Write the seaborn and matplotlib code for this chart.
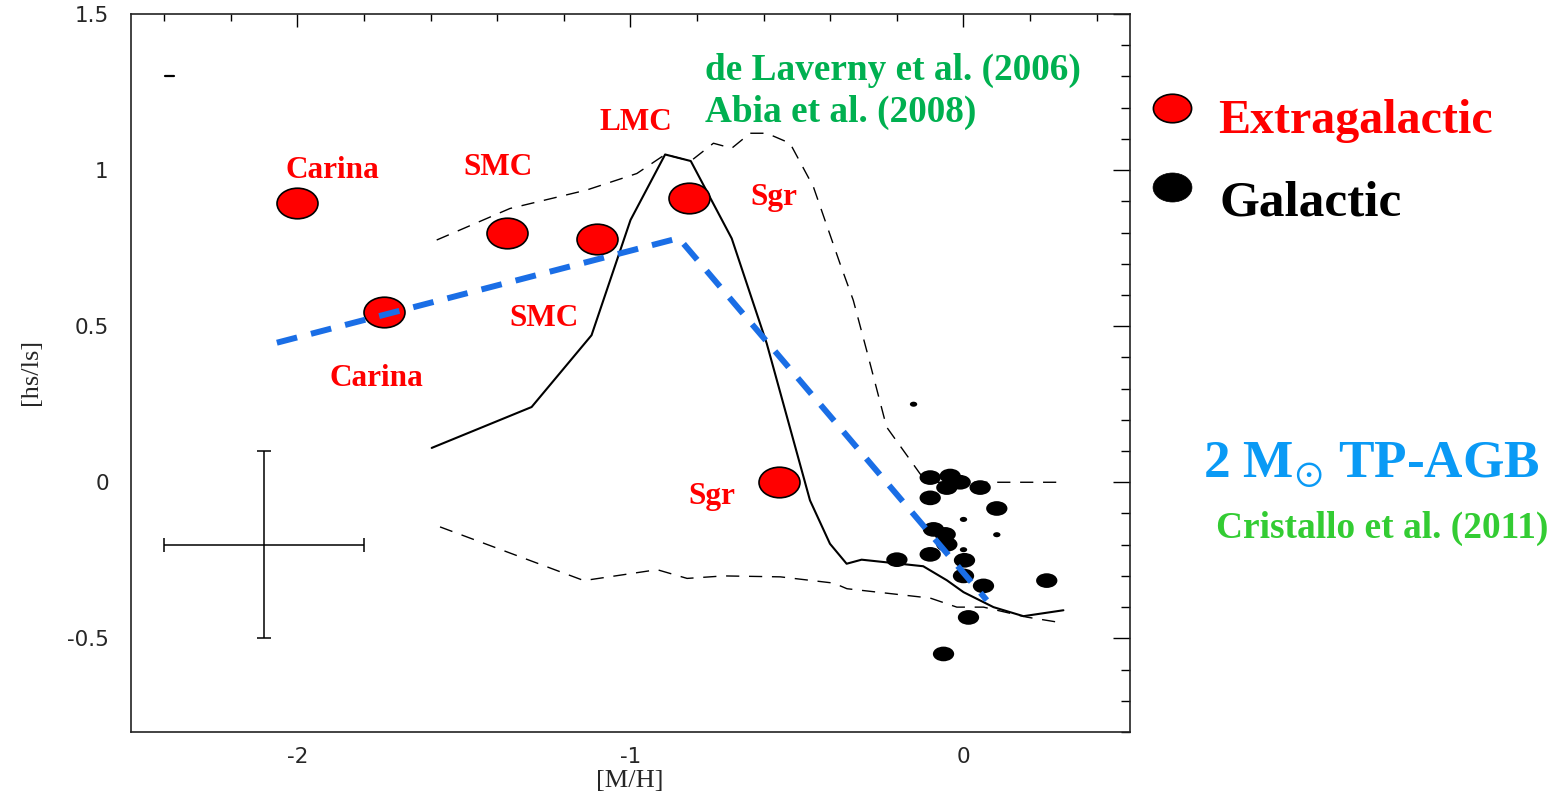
import numpy as np
import pandas as pd
import matplotlib
matplotlib.use("Agg")
import matplotlib.pyplot as plt
import seaborn as sns
from matplotlib.path import Path
from matplotlib.markers import MarkerStyle
from matplotlib.transforms import Affine2D
from matplotlib.lines import Line2D
from matplotlib.ticker import MultipleLocator, FuncFormatter

# ---------------- data ----------------
extra_mh = [-2.00, -1.74, -1.37, -1.10, -0.825, -0.555]
extra_hsls = [0.895, 0.545, 0.80, 0.78, 0.91, 0.00]

gal_mh = [-0.15, -0.10, -0.04, -0.01, -0.05, 0.05, -0.10, 0.10, 0.00, 0.10,
          -0.09, -0.055, -0.05, 0.00, -0.10, -0.20, 0.003, 0.00, 0.06, 0.25,
          0.015, -0.06]
gal_hsls = [0.25, 0.015, 0.02, 0.00, -0.017, -0.017, -0.05, -0.084, -0.119, -0.168,
            -0.151, -0.167, -0.199, -0.216, -0.231, -0.248, -0.25, -0.30, -0.332, -0.315,
            -0.433, -0.55]
gal_kind = ["weak", "strong", "strong", "strong", "strong", "strong", "strong", "strong",
            "weak", "weak", "strong", "strong", "strong", "weak", "strong", "strong",
            "strong", "strong", "strong", "strong", "strong", "strong"]

model_mh = [-1.597, -1.297, -1.117, -1.00, -0.896, -0.819, -0.696, -0.591, -0.461,
            -0.401, -0.351, -0.306, -0.121, -0.05, 0.00, 0.09, 0.18, 0.30]
model_hsls = [0.110, 0.241, 0.471, 0.840, 1.050, 1.029, 0.781, 0.445, -0.058,
              -0.197, -0.261, -0.248, -0.269, -0.314, -0.352, -0.40, -0.429, -0.41]

upper_mh = [-1.582, -1.362, -1.132, -0.981, -0.896, -0.819, -0.751, -0.696, -0.641,
            -0.591, -0.521, -0.451, -0.371, -0.331, -0.291, -0.231, -0.131, -0.11, 0.30]
upper_hsls = [0.776, 0.877, 0.936, 0.989, 1.050, 1.029, 1.086, 1.070, 1.118,
              1.118, 1.086, 0.947, 0.701, 0.583, 0.423, 0.177, 0.028, 0.0, 0.0]

lower_mh = [-1.572, -1.14, -0.92, -0.83, -0.72, -0.55, -0.39, -0.35, -0.10, -0.02,
            0.06, 0.19, 0.30]
lower_hsls = [-0.143, -0.315, -0.28, -0.308, -0.30, -0.303, -0.323, -0.341, -0.371,
              -0.40, -0.40, -0.432, -0.451]

fit_mh = [-2.062, -0.855, 0.07]
fit_hsls = [0.447, 0.782, -0.378]

err_mh, err_hsls = -2.10, -0.20
err_dmh, err_dhsls = 0.30, 0.30

stray_mh = [-2.398, -2.371]
stray_hsls = [1.30, 1.30]

site_names = ["Carina", "SMC", "LMC", "Sgr", "SMC", "Carina", "Sgr"]
site_mh = [-1.895, -1.398, -0.985, -0.571, -1.26, -1.763, -0.755]
site_hsls = [0.974, 0.984, 1.128, 0.888, 0.50, 0.308, -0.07]

x_ticks_major = 1.0
x_ticks_minor = 0.2
y_ticks_major = 0.5
y_ticks_minor = 0.1

# ---------------- style ----------------
sns.set_style("white")
plt.rcParams["font.family"] = ["DejaVu Sans"]
plt.rcParams["mathtext.fontset"] = "stix"

W, H = 1560, 793
fig = plt.figure(figsize=(W / 100, H / 100), dpi=100)
fig.patch.set_facecolor("white")
ax = fig.add_axes([131 / W, 61 / H, 999 / W, 718 / H])
ax.set_facecolor("white")

def ellipse_marker(aspect):
    p = Path.unit_circle().transformed(Affine2D().scale(aspect, 1.0))
    return MarkerStyle(p)

red_m = ellipse_marker(1.34)
blk_m = ellipse_marker(1.45)

# model curves
sns.lineplot(x=model_mh, y=model_hsls, sort=False, estimator=None, color="black",
             lw=1.5, ax=ax, zorder=2)
l_up = sns.lineplot(x=upper_mh, y=upper_hsls, sort=False, estimator=None, color="black",
                    lw=1.0, ax=ax, zorder=2).lines[-1]
l_up.set_linestyle((0, (9.5, 7)))
l_lo = sns.lineplot(x=lower_mh, y=lower_hsls, sort=False, estimator=None, color="black",
                    lw=1.0, ax=ax, zorder=2).lines[-1]
l_lo.set_linestyle((0, (9.5, 7)))

# galactic stars
gal = pd.DataFrame({"mh": gal_mh, "hsls": gal_hsls, "kind": gal_kind})
sns.scatterplot(data=gal, x="mh", y="hsls", size="kind",
                sizes={"strong": 235, "weak": 28}, color="black", marker=blk_m,
                linewidth=0, legend=False, ax=ax, zorder=3)

# extragalactic stars
ext = pd.DataFrame({"mh": extra_mh, "hsls": extra_hsls})
sns.scatterplot(data=ext, x="mh", y="hsls", s=870, color="#ff0000", marker=red_m,
                edgecolor="black", linewidth=1.2, legend=False, ax=ax, zorder=4)

# fit (blue dashed)
l_fit = sns.lineplot(x=fit_mh, y=fit_hsls, sort=False, estimator=None, color="#1a6ee6",
                     lw=4.3, ax=ax, zorder=5).lines[-1]
l_fit.set_linestyle((0, (3.5, 2.4)))

# error bar
ax.errorbar(err_mh, err_hsls, xerr=err_dmh, yerr=err_dhsls, color="black", lw=1.1,
            capsize=5, capthick=1.1, fmt="none", zorder=3)
ax.plot(stray_mh, stray_hsls, color="black", lw=1.6, zorder=3)

# site labels
for name, xm, ym in zip(site_names, site_mh, site_hsls):
    ax.text(xm, ym, name, color="#ff0000", fontsize=22.5, fontweight="bold",
            family="Liberation Serif", ha="center", va="baseline", zorder=6)

ax.text(-0.776, 1.288, "de Laverny et al. (2006)", color="#00b050", fontsize=26.8,
        fontweight="bold", family="Liberation Serif", ha="left", va="baseline")
ax.text(-0.776, 1.154, "Abia et al. (2008)", color="#00b050", fontsize=26.8,
        fontweight="bold", family="Liberation Serif", ha="left", va="baseline")

# axes
ax.set_xlim(-2.5, 0.5)
ax.set_ylim(-0.8, 1.5)
ax.xaxis.set_major_locator(MultipleLocator(x_ticks_major))
ax.xaxis.set_minor_locator(MultipleLocator(x_ticks_minor))
ax.yaxis.set_major_locator(MultipleLocator(y_ticks_major))
ax.yaxis.set_minor_locator(MultipleLocator(y_ticks_minor))

def fmt(v, p):
    v = round(v, 6)
    if abs(v) < 1e-9:
        return "0"
    return "%g" % v

ax.xaxis.set_major_formatter(FuncFormatter(fmt))
ax.yaxis.set_major_formatter(FuncFormatter(fmt))
ax.tick_params(which="both", direction="in", top=True, right=True, color="black", width=1.0)
ax.tick_params(axis="x", which="major", length=9.5, pad=11, labelsize=15.5)
ax.tick_params(axis="x", which="minor", length=5)
ax.tick_params(axis="y", which="major", length=12, pad=16, labelsize=15.5)
ax.tick_params(axis="y", which="minor", length=6.5)
for sp in ax.spines.values():
    sp.set_visible(True)
    sp.set_color("#222222")
    sp.set_linewidth(1.2)

ax.set_xlabel("[M/H]", family="Liberation Serif", fontsize=19)
ax.set_ylabel("[hs/ls]", family="Liberation Serif", fontsize=19)
ax.xaxis.set_label_coords(0.4995, -0.053)
ax.yaxis.set_label_coords(-0.089, 0.501)

# legend-like annotations on the right
def fx(px):
    return px / W

def fy(py):
    return 1 - py / H

fig.add_artist(Line2D([fx(1172)], [fy(108)], transform=fig.transFigure, marker=red_m,
                      markersize=27.5, markerfacecolor="#ff0000", markeredgecolor="black",
                      markeredgewidth=1.2, linestyle="none"))
fig.add_artist(Line2D([fx(1172)], [fy(187)], transform=fig.transFigure, marker=red_m,
                      markersize=28, markerfacecolor="black", markeredgecolor="black",
                      markeredgewidth=0.5, linestyle="none"))
fig.text(fx(1218), fy(133), "Extragalactic", color="#ff0000", fontsize=34.6,
         fontweight="bold", family="Liberation Serif", ha="left", va="baseline")
fig.text(fx(1220), fy(215), "Galactic", color="black", fontsize=37,
         fontweight="bold", family="Liberation Serif", ha="left", va="baseline")
fig.text(fx(1203), fy(478), r"2 M$_{\odot}$ TP-AGB", color="#0a9af5", fontsize=38.3,
         fontweight="bold", family="Liberation Serif", ha="left", va="baseline")
fig.text(fx(1216), fy(538), "Cristallo et al. (2011)", color="#33cc33", fontsize=26.9,
         fontweight="bold", family="Liberation Serif", ha="left", va="baseline")

fig.savefig("out.png", dpi=100, facecolor="white")
